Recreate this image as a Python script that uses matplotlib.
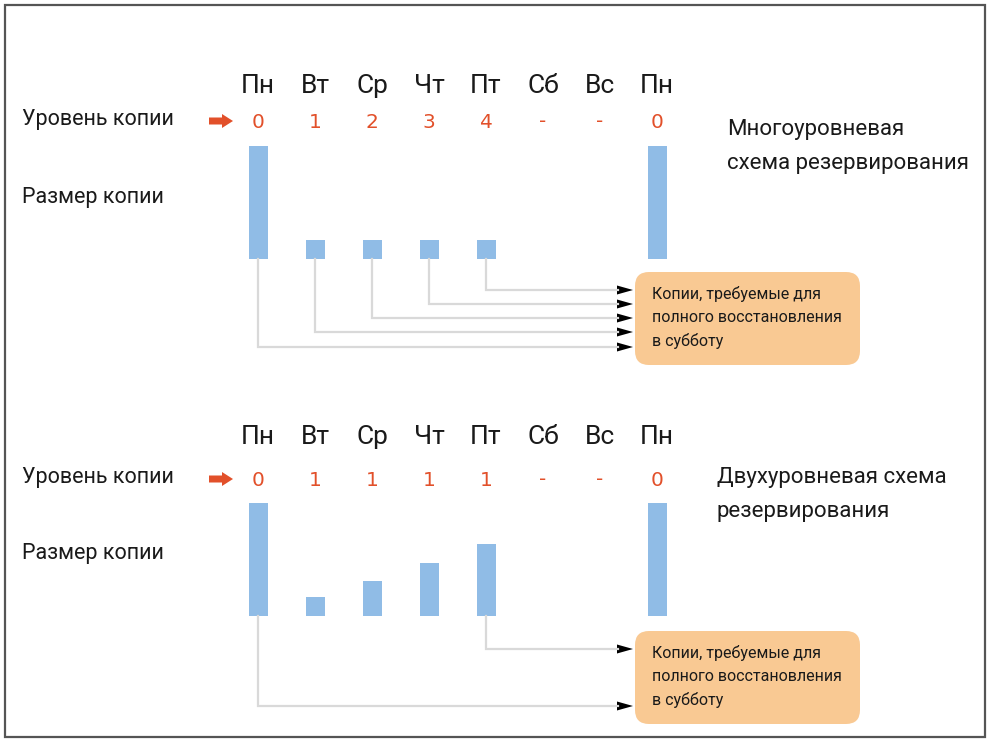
import matplotlib
matplotlib.use("Agg")
import matplotlib.pyplot as plt
import matplotlib.patches as mpatches

# --- data ---
days = ["Пн", "Вт", "Ср", "Чт", "Пт", "Сб", "Вс", "Пн"]
levels_multi = ["0", "1", "2", "3", "4", "-", "-", "0"]
levels_two = ["0", "1", "1", "1", "1", "-", "-", "0"]
sizes_multi = [113, 19, 19, 19, 19, 0, 0, 113]
sizes_two = [113, 19, 35, 53, 72, 0, 0, 113]
needed_multi = [4, 3, 2, 1, 0]     # days whose copies are needed (arrows top to bottom)
needed_two = [4, 0]
title_multi = ["Многоуровневая", "схема резервирования"]
title_two = ["Двухуровневая схема", "резервирования"]
box_lines = ["Копии, требуемые для", "полного восстановления", "в субботу"]
row_level = "Уровень копии"
row_size = "Размер копии"

W, H = 991, 740
FONT = "Roboto"
BAR = "#90bce6"
RED = "#e2502a"
LINE = "#d9d9d9"
ORANGE = "#f9c993"
INK = "#1a1a1a"

fig = plt.figure(figsize=(W / 100, H / 100), dpi=100, facecolor="white")
ax = fig.add_axes([0, 0, 1, 1])
ax.set_xlim(0, W)
ax.set_ylim(H, 0)
ax.axis("off")

# outer frame
ax.add_patch(mpatches.Rectangle((5, 5), 980, 732, fill=False, ec="#555555", lw=1.6))

xs = [258 + 57 * i for i in range(len(days))]


def panel(y_day, y_lvl, y_size, levels, sizes, base, needed, arrow_ys, title, title_x, title_ys, box_y):
    for x, d in zip(xs, days):
        ax.text(x, y_day, d, ha="center", va="center", fontsize=19, family=FONT, color=INK)
    ax.text(22, y_lvl - 1, row_level, ha="left", va="center", fontsize=15.5, family=FONT, color=INK)
    ax.text(22, y_size, row_size, ha="left", va="center", fontsize=15.5, family=FONT, color=INK)
    ax.add_patch(mpatches.FancyArrow(209, y_lvl, 13, 0, width=7, head_width=14, head_length=11,
                                     color=RED, lw=0))
    for x, lv in zip(xs, levels):
        ax.text(x, y_lvl + 1, lv, ha="center", va="center", fontsize=14.5, color=RED)
    ax.bar(xs, sizes, width=19, bottom=[base - s for s in sizes], color=BAR, edgecolor="none")
    for i, ya in zip(needed, arrow_ys):
        ax.plot([xs[i], xs[i], 618], [base, ya, ya], color=LINE, lw=1.6, solid_joinstyle="miter")
        ax.add_patch(mpatches.Polygon([[617, ya - 4.5], [617, ya + 4.5], [633, ya]], closed=True,
                                      color="black", lw=0))
    for line, ty in zip(title, title_ys):
        ax.text(title_x, ty, line, ha="left", va="center", fontsize=16, family=FONT, color=INK)
    ax.add_patch(mpatches.FancyBboxPatch((635, box_y), 225, 93, boxstyle="round,pad=0,rounding_size=14",
                                         fc=ORANGE, ec="none"))
    for k, line in enumerate(box_lines):
        ax.text(652, box_y + 22 + 23.5 * k, line, ha="left", va="center", fontsize=11.5, family=FONT,
                color=INK)


panel(86, 121, 198, levels_multi, sizes_multi, 259, needed_multi, [290, 304, 318, 332, 347],
      title_multi, 727, [130, 163], 272)
panel(437, 479, 553, levels_two, sizes_two, 616, needed_two, [649, 706],
      title_two, 717, [478, 511], 631)

fig.savefig("out.png", dpi=100, facecolor="white")
